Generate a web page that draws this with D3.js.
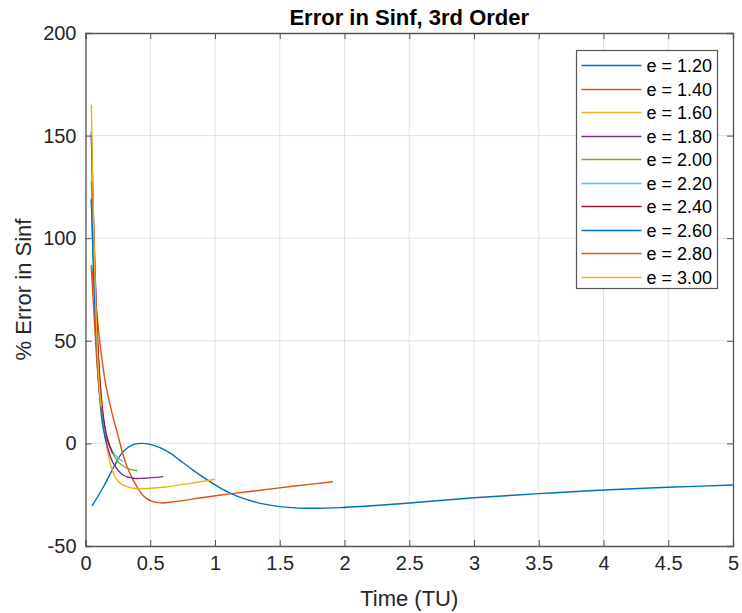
<!DOCTYPE html>
<html>
<head>
<meta charset="utf-8">
<script src="https://cdn.jsdelivr.net/npm/d3@7"></script>
<style>
	body { margin: 0; background: #fff; }
	svg { font-family: 'Liberation Sans', Arial, sans-serif; }
</style>
</head>
<body>
<div id="chart"></div>
<script>
// eccentricities in legend order
const eccs = ['1.20', '1.40', '1.60', '1.80', '2.00', '2.20', '2.40', '2.60', '2.80', '3.00']
const colors = ['#0072BD', '#D95319', '#EDB120', '#7E2F8E', '#77AC30', '#4DBEEE', '#A2142F', '#0072BD', '#D95319', '#EDB120']

// time (TU) / % error pairs
const t120 = [0.05, 0.14, 0.22, 0.29, 0.36, 0.43, 0.5, 0.58, 0.66, 0.73, 0.83, 0.94, 1.03, 1.12, 1.23, 1.35, 1.5, 1.7, 1.97, 2.43, 3, 3.5, 4, 4.5, 5]
const v120 = [-30.5, -21, -11.3, -4, -0.8, 0, -0.5, -2.2, -5, -8.3, -13, -17.8, -21.3, -24.3, -27, -29.2, -30.8, -31.6, -31.3, -29.4, -26.5, -24.5, -22.7, -21.4, -20.3]
const t140 = [0.045, 0.08, 0.11, 0.15, 0.2, 0.24, 0.32, 0.41, 0.46, 0.52, 0.58, 0.65, 0.75, 0.88, 1.1, 1.35, 1.6, 1.91]
const v140 = [87, 68, 50, 31, 16, 6.5, -11.3, -22.5, -26.3, -28.4, -29, -28.7, -27.9, -26.6, -24.7, -22.8, -20.9, -18.7]
const t160 = [0.045, 0.07, 0.1, 0.13, 0.164, 0.215, 0.27, 0.37, 0.45, 0.6, 0.8, 1.0]
const v160 = [118, 78, 42, 18, -1.6, -14.6, -19.5, -21.9, -22.1, -21.4, -19.6, -17.5]
const t180 = [0.045, 0.07, 0.1, 0.137, 0.175, 0.215, 0.29, 0.37, 0.45, 0.6]
const v180 = [150, 88, 40, 8, -3, -9.7, -15.4, -17, -17, -16.2]
const t200 = [0.045, 0.07, 0.1, 0.15, 0.2, 0.24, 0.29, 0.34, 0.4]
const v200 = [128, 76, 35, 6.5, -3, -8, -11, -12.5, -13.3]
const t220 = [0.045, 0.07, 0.1, 0.13, 0.17, 0.21, 0.25, 0.29]
const v220 = [120, 70, 30, 12, 1, -4, -7, -8.9]
const t240 = [0.045, 0.07, 0.1, 0.13, 0.17, 0.21]
const v240 = [152, 92, 42, 17, 2, -5]
const t260 = [0.045, 0.07, 0.1, 0.13, 0.16]
const v260 = [119, 70, 31, 10, 1]
const t280 = [0.045, 0.07, 0.1, 0.13]
const v280 = [86, 58, 30, 14]
const t300 = [0.045, 0.06, 0.08, 0.1, 0.12]
const v300 = [165, 115, 66, 35, 18]

const times = [t120, t140, t160, t180, t200, t220, t240, t260, t280, t300]
const vals = [v120, v140, v160, v180, v200, v220, v240, v260, v280, v300]

const xTicks = [0, 0.5, 1, 1.5, 2, 2.5, 3, 3.5, 4, 4.5, 5]
const yTicks = [-50, 0, 50, 100, 150, 200]

const width = 742
const height = 613
const margin = { top: 33, right: 9, bottom: 67, left: 85.5 }

const svg = d3
	.select('#chart')
	.append('svg')
	.attr('width', width)
	.attr('height', height)

const x = d3
	.scaleLinear()
	.domain([0, 5])
	.range([margin.left, width - margin.right])
const y = d3
	.scaleLinear()
	.domain([-50, 200])
	.range([height - margin.bottom, margin.top])

const x0 = x.range()[0]
const x1 = x.range()[1]
const y0 = y.range()[0]
const y1 = y.range()[1]

// grid
svg.append('g')
	.selectAll('line')
	.data(xTicks.slice(1, -1))
	.enter()
	.append('line')
	.attr('x1', d => x(d))
	.attr('x2', d => x(d))
	.attr('y1', y1)
	.attr('y2', y0)
	.attr('stroke', '#e2e2e2')
svg.append('g')
	.selectAll('line')
	.data(yTicks.slice(1, -1))
	.enter()
	.append('line')
	.attr('x1', x0)
	.attr('x2', x1)
	.attr('y1', d => y(d))
	.attr('y2', d => y(d))
	.attr('stroke', '#e2e2e2')

// curves
const line = d3
	.line()
	.x(d => x(d[0]))
	.y(d => y(d[1]))
	.curve(d3.curveCatmullRom.alpha(0.5))

const series = eccs.map((e, i) => ({
	e,
	color: colors[i],
	points: times[i].map((t, j) => [t, vals[i][j]])
}))

svg.append('g')
	.selectAll('path')
	.data(series)
	.enter()
	.append('path')
	.attr('d', d => line(d.points))
	.attr('fill', 'none')
	.attr('stroke', d => d.color)
	.attr('stroke-width', 1.4)

// axes (box with inward ticks on all four sides)
const axisColor = '#555'
const tickFmt = d => String(d)

const xAxis = svg
	.append('g')
	.attr('transform', `translate(0,${y0})`)
	.call(
		d3.axisBottom(x)
			.tickValues(xTicks)
			.tickSize(-6)
			.tickPadding(13)
			.tickFormat(tickFmt)
	)
const xAxisTop = svg
	.append('g')
	.attr('transform', `translate(0,${y1})`)
	.call(d3.axisTop(x).tickValues(xTicks).tickSize(-6).tickFormat(''))
const yAxis = svg
	.append('g')
	.attr('transform', `translate(${x0},0)`)
	.call(
		d3.axisLeft(y)
			.tickValues(yTicks)
			.tickSize(-6)
			.tickPadding(9)
			.tickFormat(tickFmt)
	)
const yAxisRight = svg
	.append('g')
	.attr('transform', `translate(${x1},0)`)
	.call(d3.axisRight(y).tickValues(yTicks).tickSize(-6).tickFormat(''))

;[xAxis, xAxisTop, yAxis, yAxisRight].forEach(g => {
	g.select('.domain').attr('stroke', axisColor).attr('stroke-width', 1.3)
	g.selectAll('.tick line').attr('stroke', axisColor)
	g.selectAll('.tick text')
		.attr('fill', '#262626')
		.style('font-size', '20px')
		.style('font-family', "'Liberation Sans', Arial, sans-serif")
})
xAxis.selectAll('.tick text').attr('dy', '0.55em')

// title and labels
svg.append('text')
	.attr('x', (x0 + x1) / 2)
	.attr('y', 25)
	.attr('text-anchor', 'middle')
	.attr('font-weight', 'bold')
	.attr('font-size', 22)
	.attr('fill', '#000')
	.text('Error in Sinf, 3rd Order')

svg.append('text')
	.attr('x', (x0 + x1) / 2)
	.attr('y', 606)
	.attr('text-anchor', 'middle')
	.attr('font-size', 22)
	.attr('fill', '#262626')
	.text('Time (TU)')

svg.append('text')
	.attr('transform', `translate(31,${(y0 + y1) / 2}) rotate(-90)`)
	.attr('text-anchor', 'middle')
	.attr('font-size', 22)
	.attr('fill', '#262626')
	.text('% Error in Sinf')

// legend
const legend = svg.append('g').attr('transform', 'translate(576.5,50.5)')
legend
	.append('rect')
	.attr('width', 141)
	.attr('height', 238)
	.attr('fill', '#fff')
	.attr('stroke', axisColor)
	.attr('stroke-width', 1.2)

const rows = legend
	.selectAll('g.row')
	.data(series)
	.enter()
	.append('g')
	.attr('class', 'row')
	.attr('transform', (d, i) => `translate(0,${Math.round(15 + i * 23.5)})`)

rows.append('line')
	.attr('x1', 5)
	.attr('x2', 65)
	.attr('stroke', d => d.color)
	.attr('stroke-width', 1.5)

rows.append('text')
	.attr('x', 70)
	.attr('dy', '0.35em')
	.attr('font-size', 18)
	.attr('fill', '#000')
	.text(d => `e = ${d.e}`)
</script>
</body>
</html>
